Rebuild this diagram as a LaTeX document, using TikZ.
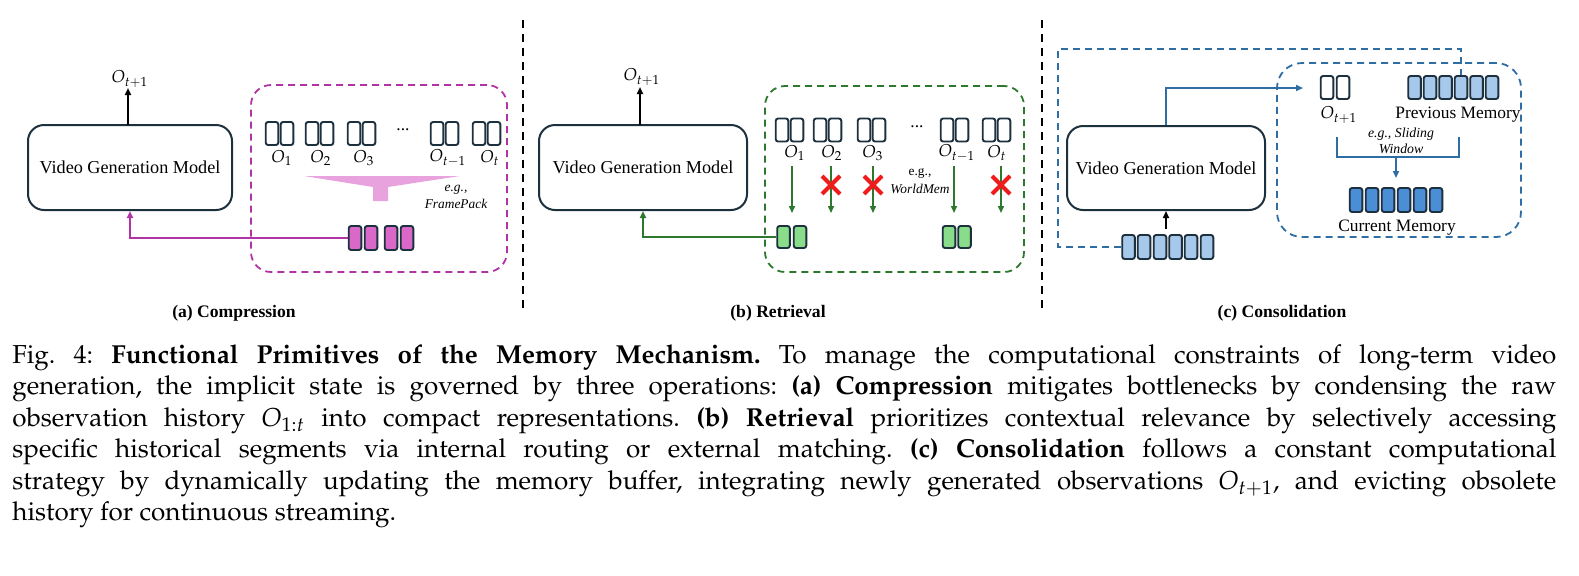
\documentclass[tikz,border=0pt]{standalone}
\usepackage{fontspec}
\newfontfamily\tnr{Liberation Serif}
\usepackage[T1]{fontenc}
\usepackage{mathpazo}
\usetikzlibrary{arrows.meta}
\definecolor{tokd}{RGB}{28,48,62}
\definecolor{magl}{RGB}{178,52,164}
\definecolor{magf}{RGB}{217,104,201}
\definecolor{funnelc}{RGB}{232,162,222}
\definecolor{grn}{RGB}{45,120,45}
\definecolor{grnf}{RGB}{137,220,137}
\definecolor{xred}{RGB}{238,28,28}
\definecolor{blu}{RGB}{46,110,165}
\definecolor{bluL}{RGB}{166,200,235}
\definecolor{bluM}{RGB}{74,142,214}
\tikzset{
  tok/.style={draw=tokd, line width=0.95pt, rounded corners=1.2pt, minimum width=6.3pt, minimum height=11.5pt, inner sep=0pt},
  vgm/.style={draw=tokd, line width=1pt, rounded corners=8pt, minimum height=42.5pt, inner sep=0pt, font=\tnr\fontsize{9.1}{10}\selectfont},
  lbl/.style={font=\fontsize{8.6}{9.6}\selectfont, inner sep=0pt},
  eg/.style={font=\tnr\itshape\fontsize{6.7}{8.3}\selectfont, align=center, inner sep=0pt},
  serif/.style={font=\tnr\fontsize{8.7}{10}\selectfont, inner sep=0pt},
  sub/.style={font=\tnr\bfseries\fontsize{8.8}{10}\selectfont, inner sep=0pt},
  tip/.style={-{Triangle[length=3.5pt,width=3pt]}},
  divider/.style={draw=black, line width=0.8pt, dash pattern=on 4pt off 3pt},
  membox/.style={line width=0.9pt, dash pattern=on 3.5pt off 2.5pt, rounded corners=10pt, inner sep=0pt},
}
\begin{document}
\begin{tikzpicture}[x=0.5pt,y=-0.5pt]
\useasboundingbox (0,0) rectangle (1579,575);

% dividers
\draw[divider] (523,20) -- (523,310);
\draw[divider] (1042,20) -- (1042,310);

% ================= (a) Compression =================
\node[vgm, minimum width=102pt] (vgmA) at (130,167.5) {Video Generation Model};
\node[lbl] (otA) at (130,79) {$O_{t+1}$};
\draw[tip, line width=0.9pt] (128,125) -- (128,88);
\node[membox, draw=magl, minimum width=128pt, minimum height=93.5pt] (memA) at (379,178.5) {};
\foreach \l/\n in {265/1,305/2,347/3,430/4,472/5}{
  \node[tok] (a\n l) at (\l+7,133.5) {};
  \node[tok] (a\n r) at (\l+22,133.5) {};
}
\node[lbl] (la1) at (282,158) {$O_1$};
\node[lbl] (la2) at (321,158) {$O_2$};
\node[lbl] (la3) at (364,158) {$O_3$};
\node[lbl] (la4) at (448,158) {$O_{t-1}$};
\node[lbl] (la5) at (490,158) {$O_t$};
\node[serif] (dotsA) at (403,130) {...};
\fill[funnelc] (304,176) -- (460,176) -- (388,187) -- (388,201) -- (373,201) -- (373,187) -- cycle;
\node[eg] (egA) at (456,197) {e.g.,\\FramePack};
\foreach \x/\n in {355/1,371/2,391/3,407/4}{
  \node[tok, fill=magf, minimum height=12pt] (c\n) at (\x,238) {};
}
\draw[tip, magl, line width=0.9pt] (c1.west) -| (vgmA.south);
\node[sub] (capA) at (234,313) {(a) Compression};

% ================= (b) Retrieval =================
\node[vgm, minimum width=104pt] (vgmB) at (643,167.5) {Video Generation Model};
\node[lbl] (otB) at (642,77) {$O_{t+1}$};
\draw[tip, line width=0.9pt] (640,125) -- (640,87);
\node[membox, draw=grn, minimum width=129.5pt, minimum height=93pt] (memB) at (894.5,179) {};
\foreach \l/\n in {775/1,813/2,857/3,940/4,982/5}{
  \node[tok] (b\n l) at (\l+7,130) {};
  \node[tok] (b\n r) at (\l+22,130) {};
}
\node[lbl] (lb1) at (795,153) {$O_1$};
\node[lbl] (lb2) at (832,153) {$O_2$};
\node[lbl] (lb3) at (873,153) {$O_3$};
\node[lbl] (lb4) at (957,153) {$O_{t-1}$};
\node[lbl] (lb5) at (997,153) {$O_t$};
\node[serif] (dotsB) at (917,127) {...};
\foreach \x in {792,831,873,954,1001}{
  \draw[tip, grn, line width=0.75pt] (\x,166) -- (\x,213);
}
\foreach \x in {831,873,1001}{
  \draw[xred, line width=2pt] (\x-9,176) -- (\x+9,194);
  \draw[xred, line width=2pt] (\x+9,176) -- (\x-9,194);
}
\node[eg, font=\tnr\fontsize{6.7}{8.3}\selectfont] (egB1) at (920,173) {e.g.,};
\node[eg] (egB2) at (920,189) {WorldMem};
\foreach \x/\n in {783.5/1,800/2,949/3,964.5/4}{
  \node[tok, fill=grnf, minimum height=11pt] (g\n) at (\x,237) {};
}
\draw[tip, grn, line width=0.9pt] (g1.west) -| (vgmB.south);
\node[sub] (capB) at (778,313) {(b) Retrieval};

% ================= (c) Consolidation =================
\node[vgm, minimum width=99pt, minimum height=42pt] (vgmC) at (1166,168) {Video Generation Model};
\node[membox, draw=blu, rounded corners=12.5pt, minimum width=122pt, minimum height=87pt] (memC) at (1399,150) {};
\node[tok] (n1) at (1327,87.5) {};
\node[tok] (n2) at (1343,87.5) {};
\node[lbl] (lnc) at (1339,115) {$O_{t+1}$};
\foreach \x/\n in {1414.5/1,1430/2,1445.5/3,1461/4,1476.5/5,1492/6}{
  \node[tok, fill=bluL] (p\n) at (\x,87.5) {};
}
\node[serif] (prevtxt) at (1458,115) {Previous Memory};
\coordinate (arrC) at (1303,88);
\draw[tip, blu, line width=0.9pt] (vgmC.north) |- (arrC);
\draw[blu, line width=0.9pt] (1337,137) -- (1337,157) -- (1459,157) -- (1459,137);
\draw[tip, blu, line width=1.1pt] (1396,157) -- (1396,178);
\node[eg, font=\tnr\itshape\fontsize{6.9}{8}\selectfont] (egC) at (1401,141) {e.g., Sliding\\Window};
\foreach \x/\n in {1356/1,1372/2,1388/3,1404/4,1420/5,1436/6}{
  \node[tok, fill=bluM, minimum height=12pt] (m\n) at (\x,200) {};
}
\node[serif] (curtxt) at (1397,228) {Current Memory};
\foreach \x/\n in {1128.5/1,1144/2,1160/3,1175.5/4,1191/5,1207/6}{
  \node[tok, fill=bluL, minimum height=12pt] (i\n) at (\x,247) {};
}
\coordinate (inArr) at (1166,229);
\draw[tip, line width=0.8pt] (inArr) -- (vgmC.south);
\draw[blu, line width=0.9pt, dash pattern=on 3.5pt off 2.5pt] (i1.west) -| (1058,49) -| (p4.north);
\node[sub] (capC) at (1282,313) {(c) Consolidation};

% ================= caption =================
\node[anchor=north west, text width=772pt, align=justify, inner sep=0pt,
      font=\fontsize{13}{15.75}\selectfont\frenchspacing] (caption) at (12,344)
{Fig. 4: \textbf{Functional Primitives of the Memory Mechanism.} To manage the computational constraints of long-term video\linebreak
generation, the implicit state is governed by three operations: \textbf{(a) Compression} mitigates bottlenecks by condensing the raw\linebreak
observation history $O_{1:t}$ into compact representations. \textbf{(b) Retrieval} prioritizes contextual relevance by selectively accessing\linebreak
specific historical segments via internal routing or external matching. \textbf{(c) Consolidation} follows a constant computational\linebreak
strategy by dynamically updating the memory buffer, integrating newly generated observations $O_{t+1}$, and evicting obsolete\linebreak
history for continuous streaming.};
\end{tikzpicture}
\end{document}
